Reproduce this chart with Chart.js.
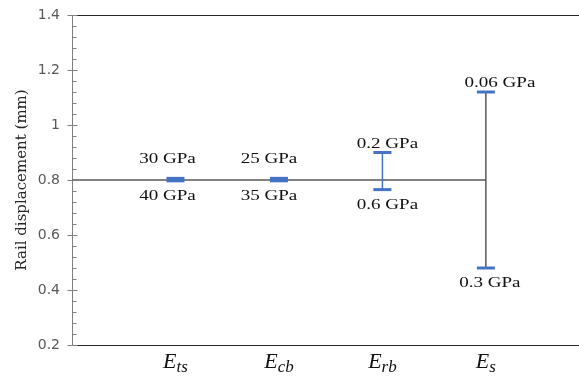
<!DOCTYPE html>
<html>
<head>
<meta charset="utf-8">
<script src="https://cdn.jsdelivr.net/npm/chart.js@4"></script>
<style>
  html, body { margin: 0; padding: 0; background: #fff; }
  #wrap { width: 579px; height: 378px; }
</style>
</head>
<body>
<div id="wrap"><canvas id="chart" width="579" height="378"></canvas></div>
<script>
// Subscripts of the E category labels
const categories = ['ts', 'cb', 'rb', 's'];
const baseValue = 0.8;
const upperValues = [0.806, 0.806, 0.90, 1.12];
const lowerValues = [0.797, 0.797, 0.765, 0.48];
const upperLabels = ['30 GPa', '25 GPa', '0.2 GPa', '0.06 GPa'];
const lowerLabels = ['40 GPa', '35 GPa', '0.6 GPa', '0.3 GPa'];
const yMin = 0.2;
const yMax = 1.4;
const yStep = 0.2;
const yMinorStep = 0.04;

const BLUE = '#4472C4';
const GREY = '#595959';
const AXIS = '#808080';
const rangeColors = [BLUE, BLUE, BLUE, GREY];

// Vertical range line per category
const rangeSets = categories.map((c, i) => ({
  type: 'line',
  data: [{ x: i + 1, y: lowerValues[i] }, { x: i + 1, y: upperValues[i] }],
  borderColor: rangeColors[i],
  borderWidth: 1.5,
  pointRadius: 0,
  order: 2
}));

const capPoints = [];
categories.forEach((c, i) => {
  capPoints.push({ x: i + 1, y: upperValues[i] });
  capPoints.push({ x: i + 1, y: lowerValues[i] });
});

const extrasPlugin = {
  id: 'extras',
  afterDraw(chart, args, opts) {
    const { ctx, chartArea } = chart;
    const xs = chart.scales.x, ys = chart.scales.y;
    ctx.save();

    // top & bottom frame lines
    ctx.strokeStyle = '#262626';
    ctx.lineWidth = 1;
    [yMax, yMin].forEach(v => {
      const py = Math.round(ys.getPixelForValue(v)) + 0.5;
      ctx.beginPath();
      ctx.moveTo(chartArea.left, py);
      ctx.lineTo(chartArea.right, py);
      ctx.stroke();
    });

    // major and minor ticks on the y axis
    const ax = Math.round(chartArea.left) + 0.5;
    ctx.strokeStyle = AXIS;
    const nMinor = Math.round((yMax - yMin) / yMinorStep);
    const perMajor = Math.round(yStep / yMinorStep);
    for (let k = 0; k <= nMinor; k++) {
      const v = yMin + k * yMinorStep;
      const py = Math.round(ys.getPixelForValue(v)) + 0.5;
      ctx.beginPath();
      if (k % perMajor === 0) {
        ctx.moveTo(ax - 5, py);
        ctx.lineTo(ax + 5, py);
      } else {
        ctx.moveTo(ax, py);
        ctx.lineTo(ax + 4, py);
      }
      ctx.stroke();
    }

    // value labels above / below the caps
    ctx.fillStyle = '#111';
    ctx.font = '15px "Liberation Serif"';
    ctx.textAlign = 'center';
    ctx.textBaseline = 'alphabetic';
    categories.forEach((c, i) => {
      const cx = xs.getPixelForValue(i + 1);
      const pu = ys.getPixelForValue(upperValues[i]);
      const pl = ys.getPixelForValue(lowerValues[i]);
      const tight = (pl - pu) < 10 ? 10 : 0;
      const draw = (txt, x, y) => {
        ctx.save();
        ctx.translate(x, y);
        ctx.scale(opts.stretch, 1);
        ctx.fillText(txt, 0, 0);
        ctx.restore();
      };
      draw(upperLabels[i], cx + opts.topNudge[i], pu - 5 - tight);
      draw(lowerLabels[i], cx + opts.bottomNudge[i], pl + 19);
    });

    // category labels E with italic subscript
    ctx.textAlign = 'left';
    ctx.fillStyle = '#111';
    const bigFont = 'italic 22px "Liberation Serif"';
    const subFont = 'italic 17px "Liberation Serif"';
    categories.forEach((c, i) => {
      const cx = xs.getPixelForValue(i + 1);
      ctx.font = bigFont;
      const wE = ctx.measureText('E').width;
      ctx.font = subFont;
      const wS = ctx.measureText(c).width;
      const x0 = cx - (wE + wS) / 2;
      ctx.font = bigFont;
      ctx.fillText('E', x0, 368);
      ctx.font = subFont;
      ctx.fillText(c, x0 + wE, 372);
    });

    ctx.restore();
  }
};

new Chart(document.getElementById('chart'), {
  type: 'scatter',
  data: {
    datasets: [
      {
        type: 'scatter',
        data: capPoints,
        pointStyle: 'line',
        pointRadius: 9,
        pointBorderWidth: 3,
        borderColor: BLUE,
        backgroundColor: BLUE,
        order: 0
      },
      ...rangeSets,
      {
        type: 'line',
        data: [{ x: 0, y: baseValue }, ...categories.map((c, i) => ({ x: i + 1, y: baseValue }))],
        borderColor: GREY,
        borderWidth: 1.5,
        pointRadius: 0,
        order: 3
      }
    ]
  },
  options: {
    responsive: false,
    animation: false,
    devicePixelRatio: 1,
    layout: { autoPadding: false, padding: { top: 15, bottom: 33, left: 0, right: 0 } },
    plugins: {
      legend: { display: false },
      tooltip: { enabled: false },
      extras: {
        stretch: 1.27,
        topNudge: [-8, -10, 5, 14],
        bottomNudge: [-8, -10, 5, 4]
      }
    },
    scales: {
      x: {
        type: 'linear',
        min: 0,
        max: 4.9,
        display: false
      },
      y: {
        min: yMin,
        max: yMax,
        afterFit(scale) {
          scale.width = 72;
          scale.paddingTop = 0;
          scale.paddingBottom = 0;
        },
        grid: { display: false, drawTicks: false },
        border: { display: true, color: AXIS, width: 1 },
        ticks: {
          stepSize: yStep,
          padding: 12,
          color: GREY,
          font: { family: '"DejaVu Sans"', size: 14 },
          callback: v => String(+v.toFixed(1))
        },
        title: {
          display: true,
          text: 'Rail displacement (mm)',
          color: '#262626',
          font: { family: '"DejaVu Serif"', size: 15 },
          padding: { top: 13, bottom: 0 }
        }
      }
    }
  },
  plugins: [extrasPlugin]
});
</script>
</body>
</html>
